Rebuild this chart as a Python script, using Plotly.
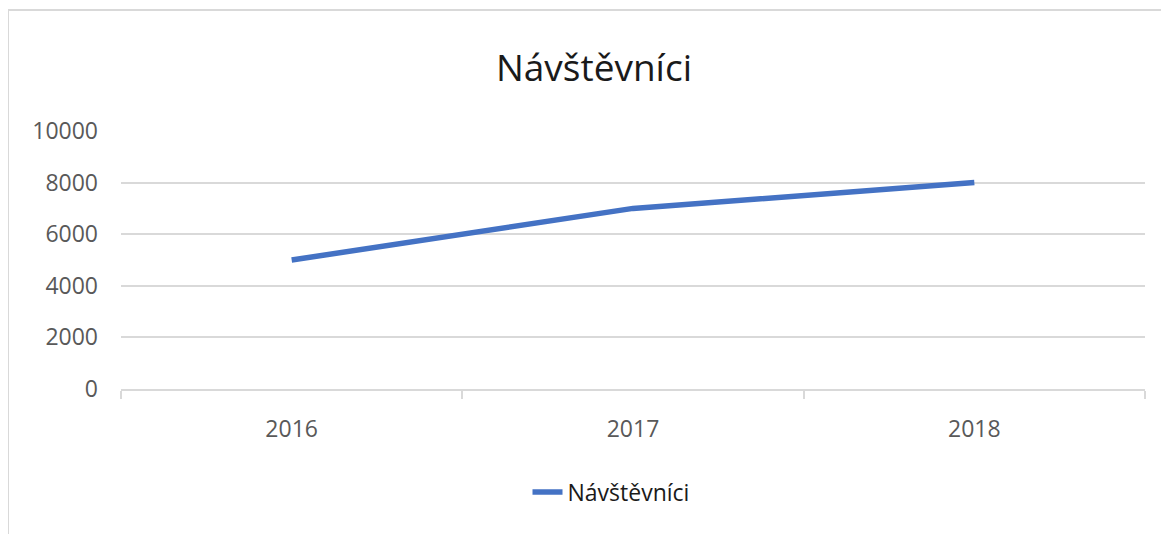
import plotly.graph_objects as go

categories = ["2016", "2017", "2018"]
visitors = [5000, 7000, 8000]
series_name = "Návštěvníci"
title_text = "Návštěvníci"
y_ticks = [0, 2000, 4000, 6000, 8000, 10000]
y_ticklabels = ["0", "2000", "4000", "6000", "8000", "10000"]

OFF = 8  # browser body margin
W, H = 1169 - OFF, 534 - OFF
L, R, T, B = 121 - OFF, 1145 - OFF, 131 - OFF, 389 - OFF  # plot area pixel bounds

def px_x(px):
    return (px - OFF - L) / (R - L)

def px_y(py):
    return (B - (py - OFF)) / (B - T)

fig = go.Figure()
fig.add_trace(go.Scatter(
    x=categories, y=visitors, mode="lines", name=series_name,
    line=dict(color="#4472C4", width=5.5),
))

fig.update_layout(
    width=W, height=H,
    margin=dict(l=L, r=W - R, t=T, b=H - B),
    paper_bgcolor="white", plot_bgcolor="white",
    font=dict(family="Open Sans", color="#595959", size=23),
    title=dict(text=title_text, x=(594 - OFF) / W, xanchor="center",
               y=1 - (68 - OFF) / H, yanchor="middle",
               font=dict(family="Open Sans", size=37, color="#1a1a1a")),
    showlegend=True,
    legend=dict(orientation="h", x=px_x(611), xanchor="center",
                y=px_y(492), yanchor="middle",
                font=dict(family="Open Sans", size=23, color="#1a1a1a")),
    xaxis=dict(type="category", range=[-0.5, 2.5], showgrid=False,
               showline=True, linecolor="#d9d9d9", linewidth=2,
               ticks="outside", tickson="boundaries", ticklen=8,
               tickcolor="#d9d9d9", tickwidth=2, ticklabelstandoff=18,
               tickfont=dict(color="#595959", size=23)),
    yaxis=dict(range=[0, 10000], tickvals=y_ticks, ticktext=y_ticklabels,
               showgrid=True, gridcolor="#d9d9d9", gridwidth=2,
               zeroline=False, showline=False, ticks="",
               ticklabelstandoff=22, tickfont=dict(color="#595959", size=23)),
    shapes=[dict(type="rect", xref="paper", yref="paper",
                 x0=px_x(8), x1=px_x(1180), y0=px_y(545), y1=px_y(10),
                 line=dict(color="#d9d9d9", width=2), layer="below")],
)

fig.write_html("out.html")
